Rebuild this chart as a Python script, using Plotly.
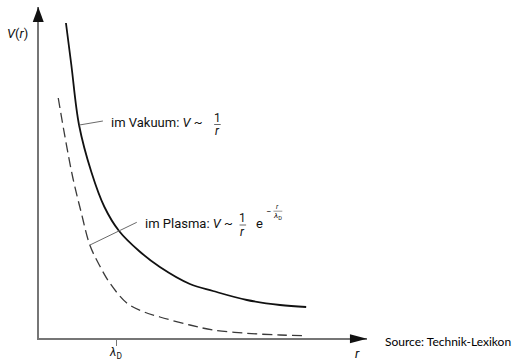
import plotly.graph_objects as go

# ---- data (r in units of lambda_D, V in arbitrary units) ----
r_vakuum = [0.35, 0.42, 0.52, 0.68, 0.85, 1.04, 1.30, 1.57, 1.96, 2.26, 2.70, 3.13, 3.47]
v_vakuum = [3.15, 2.73, 2.13, 1.66, 1.31, 1.07, 0.87, 0.71, 0.54, 0.47, 0.38, 0.33, 0.31]

r_plasma = [0.25, 0.34, 0.44, 0.55, 0.66, 0.79, 0.92, 1.14, 1.35, 1.57, 1.96, 2.26, 2.70, 3.13, 3.45]
v_plasma = [2.40, 2.00, 1.60, 1.25, 0.93, 0.72, 0.55, 0.35, 0.265, 0.21, 0.13, 0.08, 0.047, 0.03, 0.023]

tick_vals = [1]
tick_text = ["<i>λ</i><sub>D</sub>"]

X_MAX = 4.26
Y_MAX = 3.31

LBL_FONT = "Roboto, Liberation Sans, sans-serif"
AX_COL = "#767676"

fig = go.Figure()
fig.add_trace(go.Scatter(x=r_vakuum, y=v_vakuum, mode="lines", line=dict(color="#111111", width=1.8, shape="spline"),
                         hoverinfo="skip", showlegend=False))
fig.add_trace(go.Scatter(x=r_plasma, y=v_plasma, mode="lines",
                         line=dict(color="#3a3a3a", width=1.3, shape="spline", dash="10px,5px"),
                         hoverinfo="skip", showlegend=False))

shapes = []
# leader lines
shapes.append(dict(type="line", xref="x", yref="y", x0=0.525, y0=2.13, x1=0.83, y1=2.17,
                   line=dict(color="#6a6a6a", width=1)))
shapes.append(dict(type="line", xref="x", yref="y", x0=0.662, y0=0.93, x1=1.27, y1=1.157,
                   line=dict(color="#6a6a6a", width=1)))
# fraction bars
shapes.append(dict(type="line", xref="x", yref="y", x0=2.275, y0=2.135, x1=2.36, y1=2.135,
                   line=dict(color="#444", width=0.8)))
shapes.append(dict(type="line", xref="x", yref="y", x0=2.605, y0=1.13, x1=2.69, y1=1.13,
                   line=dict(color="#444", width=0.8)))
shapes.append(dict(type="line", xref="x", yref="y", x0=3.045, y0=1.268, x1=3.16, y1=1.268,
                   line=dict(color="#555", width=0.6)))
# arrowheads
shapes.append(dict(type="path", xref="paper", yref="paper",
                   path="M -0.0191,0.9547 L -0.0023,1.0 L 0.0145,0.9547 Z",
                   fillcolor="#111", line=dict(width=0)))
shapes.append(dict(type="path", xref="paper", yref="paper",
                   path="M 0.948,0.0113 L 1.0,-0.0023 L 0.948,-0.0159 Z",
                   fillcolor="#111", line=dict(width=0)))

ann = []
def t(text, x, y, size=13, xanchor="center", xref="x", yref="y", family=LBL_FONT, color="#111"):
    ann.append(dict(text=text, x=x, y=y, xref=xref, yref=yref, xanchor=xanchor, yanchor="middle",
                    showarrow=False, font=dict(family=family, size=size, color=color)))

t("im Vakuum: <i>V</i> ~", 0.905, 2.16, xanchor="left")
t("1", 2.318, 2.20, size=12)
t("<i>r</i>", 2.318, 2.07, size=12)

t("im Plasma: <i>V</i> ~", 1.345, 1.147, xanchor="left")
t("1", 2.649, 1.20, size=12)
t("<i>r</i>", 2.649, 1.06, size=12)
t("e", 2.87, 1.15, size=13)
t("−", 2.98, 1.263, size=9)
t("<i>r</i>", 3.10, 1.315, size=7)
t("<i>λ</i><sub>D</sub>", 3.10, 1.225, size=8)

# tick label for lambda_D (placed explicitly so it is not cut at the bottom edge)
ann.append(dict(text=tick_text[0], x=tick_vals[0], y=-0.044, xref="x", yref="paper",
                xanchor="center", yanchor="middle", xshift=-1, showarrow=False,
                font=dict(family=LBL_FONT, size=12, color="#111")))

t("<i>V</i>(<i>r</i>)", -0.067, 0.921, size=13, xref="paper", yref="paper")
t("<i>r</i>", 0.971, -0.047, size=13, xref="paper", yref="paper")
t("Source: Technik-Lexikon", 1.0488, -0.012, size=12, xanchor="left", xref="paper", yref="paper",
  family="Lato, Open Sans, sans-serif", color="#000")

fig.update_layout(
    width=520, height=361,
    margin=dict(l=39, r=153, t=7, b=23, pad=0),
    paper_bgcolor="white", plot_bgcolor="white",
    xaxis=dict(range=[0, X_MAX], showline=True, linecolor=AX_COL, linewidth=1.5, showgrid=False,
               zeroline=False, ticks="outside", tickvals=tick_vals, showticklabels=False,
               ticklen=6, tickwidth=1.2, tickcolor=AX_COL, automargin=False, fixedrange=True),
    yaxis=dict(range=[0, Y_MAX], showline=True, linecolor=AX_COL, linewidth=1.5, showgrid=False,
               zeroline=False, showticklabels=False, ticks="", automargin=False, fixedrange=True),
    shapes=shapes, annotations=ann, showlegend=False,
)

fig.write_html("out.html", config={"displayModeBar": False},
               post_script="document.body.style.margin='0';document.body.style.overflow='hidden';")
